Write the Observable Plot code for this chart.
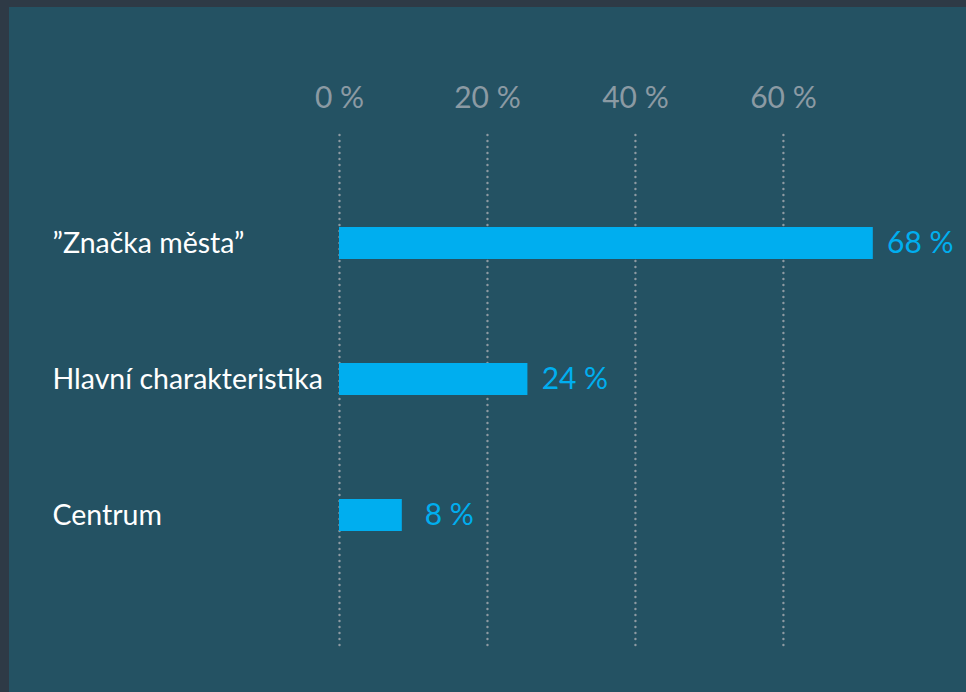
<!DOCTYPE html>
<html>
<head>
<meta charset="utf-8">
<script src="https://cdn.jsdelivr.net/npm/d3@7"></script>
<script src="https://cdn.jsdelivr.net/npm/@observablehq/plot@0.6"></script>
<style>
  html, body { margin: 0; padding: 0; background: #2e3a46; width: 966px; height: 692px; overflow: hidden; }
  #chart { position: absolute; left: 9px; top: 7px; width: 957px; height: 685px; background: #245263; }
  #chart svg { display: block; }
</style>
</head>
<body>
<div id="chart"></div>
<script>
// Data
const categories = ["\u201DZna\u010Dka m\u011Bsta\u201D", "Hlavn\u00ED charakteristika", "Centrum"];
const values = [68, 24, 8];
const tickValues = [0, 20, 40, 60];
const tickLabels = ["0 %", "20 %", "40 %", "60 %"];

// The original axis grid is drawn slightly compressed relative to the bars
const gridRatio = 0.9425;

const data = categories.map((c, i) => ({category: c, value: values[i]}));
const font = "Lato, 'Open Sans', sans-serif";

const chart = Plot.plot({
  width: 957,
  height: 685,
  marginLeft: 330,
  marginRight: 38.25,
  marginTop: 128,
  marginBottom: 44,
  style: {background: "transparent", fontFamily: font},
  x: {domain: [0, 75], axis: null},
  y: {domain: categories, paddingInner: 0.7656, paddingOuter: 0.762, align: 0.442, label: null},
  marks: [
    Plot.ruleX(tickValues, {x: d => d * gridRatio, stroke: "#8e9aa2", strokeWidth: 2.4, strokeDasharray: "0,6", strokeLinecap: "round"}),
    Plot.barX(data, {x: "value", y: "category", fill: "#00aeef"}),
    Plot.text(tickValues, {x: d => d * gridRatio, text: (d, i) => tickLabels[i], frameAnchor: "top", lineAnchor: "middle", dy: -37, fill: "#8b9aa3", fontSize: 30}),
    Plot.text(data, {x: "value", y: "category", text: d => d.value + " %", dx: 47, textAnchor: "middle", fill: "#00aeef", fontSize: 30}),
    Plot.axisY({tickSize: 0, tickPadding: 0, textAnchor: "start", dx: -287, fill: "#ffffff", fontSize: 28.5, label: null})
  ]
});
document.getElementById("chart").appendChild(chart);
</script>
</body>
</html>
